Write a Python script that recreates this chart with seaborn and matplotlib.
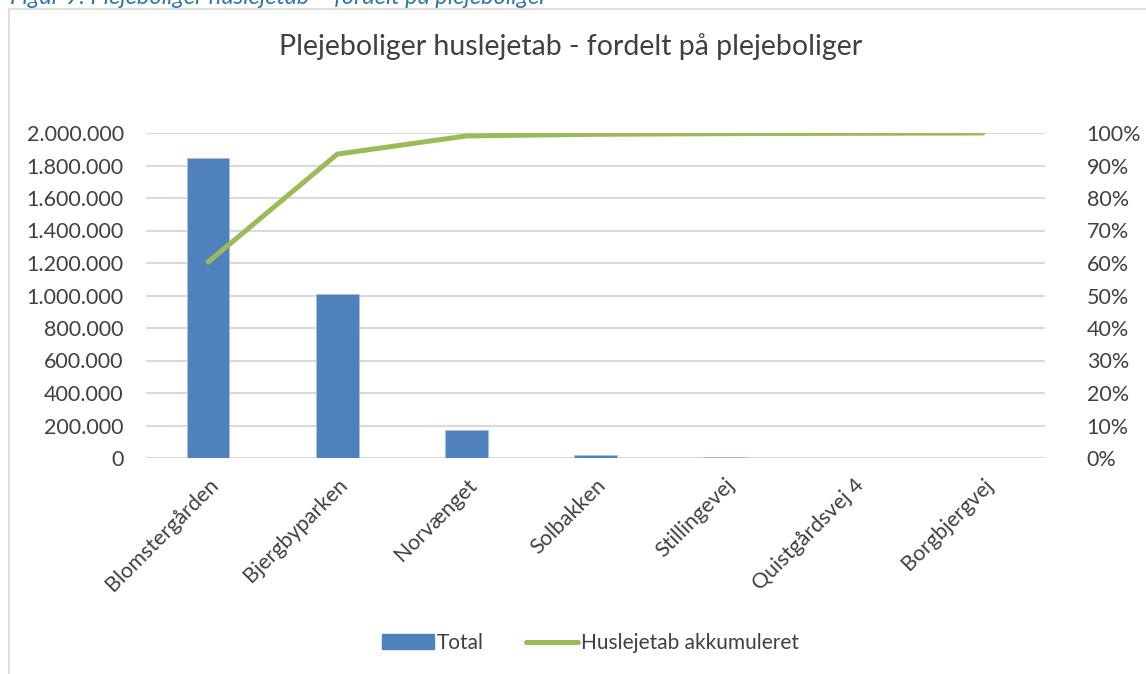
import numpy as np
import pandas as pd
import matplotlib
matplotlib.use("Agg")
import matplotlib.pyplot as plt
import matplotlib.patches as mpatches
from matplotlib.lines import Line2D
from matplotlib.ticker import FuncFormatter, MultipleLocator
import seaborn as sns

# data
plejeboliger = ["Blomstergården", "Bjergbyparken", "Norvænget", "Solbakken",
                "Stillingevej", "Quistgårdsvej 4", "Borgbjergvej"]
total = [1846000, 1009000, 172000, 20000, 4000, 2500, 1000]
akkumuleret = [0.603, 0.935, 0.991, 0.996, 0.998, 0.999, 1.0]

df = pd.DataFrame({"plejebolig": plejeboliger, "total": total,
                   "akk": akkumuleret, "pos": np.arange(len(plejeboliger))})

sns.set_theme(style="white")
plt.rcParams["font.family"] = ["Lato", "DejaVu Sans"]

blaa = "#4F81BD"
groen = "#9BBB59"
tekst = "#404040"
gitter = "#D9D9D9"

fig = plt.figure(figsize=(11.46, 6.74), dpi=100)
ax = fig.add_axes([146 / 1146, 1 - 458 / 674, (1045 - 146) / 1146, (458 - 133) / 674])

sns.barplot(data=df, x="plejebolig", y="total", color=blaa, width=0.33,
            saturation=1, edgecolor="#A9C1E0", linewidth=0.6, ax=ax, zorder=2)
ax.set_ylim(0, 2000000)
ax.yaxis.set_major_locator(MultipleLocator(200000))
ax.yaxis.set_major_formatter(FuncFormatter(lambda v, p: f"{int(v):,}".replace(",", ".")))
ax.grid(axis="y", color=gitter, linewidth=1.5, zorder=0)
ax.set_axisbelow(True)
ax.set_xlabel("")
ax.set_ylabel("")
for s in ax.spines.values():
    s.set_visible(False)
ax.tick_params(axis="y", length=0, pad=16, labelsize=15.5, labelcolor=tekst)
ax.tick_params(axis="x", length=0, pad=12, labelsize=15.5, labelcolor=tekst)
plt.setp(ax.get_xticklabels(), rotation=45, ha="right", rotation_mode="anchor")

ax2 = ax.twinx()
sns.lineplot(data=df, x="pos", y="akk", color=groen, linewidth=3.6, ax=ax2,
             solid_capstyle="round", zorder=3)
ax2.set_ylim(0, 1)
ax2.yaxis.set_major_locator(MultipleLocator(0.1))
ax2.yaxis.set_major_formatter(FuncFormatter(lambda v, p: f"{v * 100:.0f}%"))
ax2.set_ylabel("")
ax2.set_xlim(ax.get_xlim())
for s in ax2.spines.values():
    s.set_visible(False)
ax2.tick_params(axis="y", length=0, pad=30, labelsize=15.5, labelcolor=tekst)
plt.setp(ax2.get_yticklabels(), ha="left")

fig.text(0.498, 1 - 47 / 674, "Plejeboliger huslejetab - fordelt på plejeboliger",
         ha="center", va="center", fontsize=20.5, color=tekst)

# caption cut off at the top of the image
fig.text(10 / 1146, 1 - 4 / 674, "Figur 9: Plejeboliger huslejetab – fordelt på plejeboliger",
         ha="left", va="baseline", fontsize=17, color="#2E74B5", style="italic")

# chart frame
fig.add_artist(Line2D([9 / 1146, 9 / 1146], [0, 1 - 9 / 674], transform=fig.transFigure,
                      color=gitter, linewidth=1.2))
fig.add_artist(Line2D([9 / 1146, 1.0], [1 - 9 / 674, 1 - 9 / 674], transform=fig.transFigure,
                      color=gitter, linewidth=1.2))

handles = [mpatches.Patch(facecolor=blaa, edgecolor=blaa, label="Total"),
           Line2D([], [], color=groen, linewidth=3.6, solid_capstyle="round",
                  label="Huslejetab akkumuleret")]
fig.legend(handles=handles, loc="center", bbox_to_anchor=(0.515, 1 - 643 / 674), ncol=2,
           frameon=False, fontsize=15, handlelength=2.5, handletextpad=0.15,
           columnspacing=2.0, labelcolor=tekst)

fig.savefig("out.png", dpi=100)
